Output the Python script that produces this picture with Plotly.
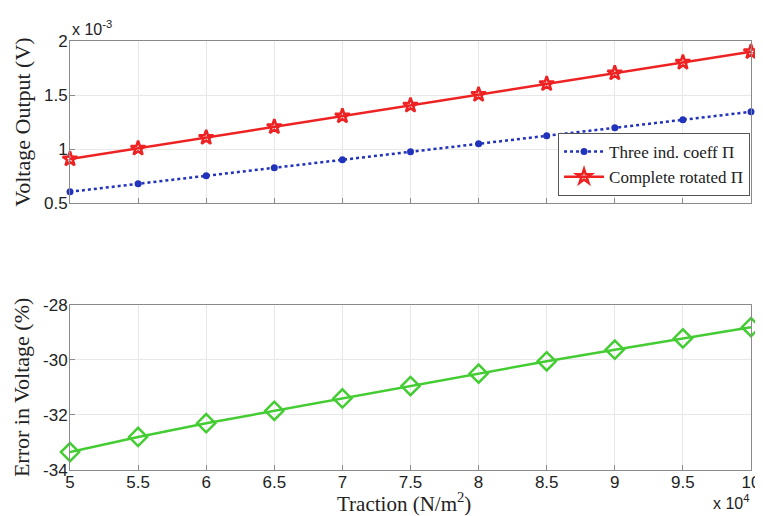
import plotly.graph_objects as go
from plotly.subplots import make_subplots

traction_x1e4 = [5, 5.5, 6, 6.5, 7, 7.5, 8, 8.5, 9, 9.5, 10]
three_ind_mV = [0.605, 0.679, 0.753, 0.827, 0.901, 0.975, 1.049, 1.123, 1.197, 1.271, 1.345]
complete_rot_mV = [0.908, 1.007, 1.107, 1.206, 1.306, 1.405, 1.504, 1.604, 1.703, 1.802, 1.900]
error_pct = [-33.35, -32.8, -32.3, -31.85, -31.4, -30.95, -30.5, -30.05, -29.63, -29.22, -28.81]

x_ticks = [5, 5.5, 6, 6.5, 7, 7.5, 8, 8.5, 9, 9.5, 10]
x_ticklabels = ["5", "5.5", "6", "6.5", "7", "7.5", "8", "8.5", "9", "9.5", "10"]
y1_ticks = [0.5, 1, 1.5, 2]
y1_ticklabels = ["0.5", "1", "1.5", "2"]
y2_ticks = [-34, -32, -30, -28]
y2_ticklabels = ["-34", "-32", "-30", "-28"]

SERIF = "Liberation Serif, Times New Roman, serif"
SANS = "Liberation Sans, Arial, sans-serif"

fig = make_subplots(rows=2, cols=1, shared_xaxes=False, vertical_spacing=0.0)

fig.add_trace(go.Scatter(
    x=traction_x1e4, y=three_ind_mV, name="Three ind. coeff \u03a0",
    mode="lines+markers", cliponaxis=False,
    line=dict(color="#2233bb", width=2.5, dash="dot"),
    marker=dict(symbol="circle", size=7, color="#2233bb"),
), row=1, col=1)
fig.add_trace(go.Scatter(
    x=traction_x1e4, y=complete_rot_mV, name="Complete rotated \u03a0",
    mode="lines+markers", cliponaxis=False,
    line=dict(color="#ee2222", width=2.5),
    marker=dict(symbol="star", size=11, color="rgba(255,255,255,0)",
                line=dict(color="#ee2222", width=2.5)),
), row=1, col=1)
fig.add_trace(go.Scatter(
    x=traction_x1e4, y=error_pct, name="Error",
    mode="lines+markers", showlegend=False, cliponaxis=False,
    line=dict(color="#44cc33", width=2.5),
    marker=dict(symbol="diamond-open", size=14, color="#44cc33",
                line=dict(color="#44cc33", width=2.5)),
), row=2, col=1)

axis_common = dict(
    showline=True, linecolor="#8a8a8a", linewidth=1, mirror=True,
    ticks="inside", ticklen=5, tickcolor="#8a8a8a",
    showgrid=True, gridcolor="#e8e8e8", gridwidth=1, zeroline=False,
    tickfont=dict(family=SANS, size=17, color="#222"),
)

fig.update_xaxes(axis_common, range=[5, 10], tickvals=x_ticks)
fig.update_xaxes(showticklabels=False, row=1, col=1)
fig.update_xaxes(ticktext=x_ticklabels, row=2, col=1, ticklabelstandoff=-3)
fig.update_yaxes(axis_common)
fig.update_yaxes(range=[0.5, 2], tickvals=y1_ticks, ticktext=y1_ticklabels, row=1, col=1,
                 ticklabelstandoff=-2,
                 title=dict(text="Voltage Output (V)",
                            font=dict(family=SERIF, size=22, color="#222"),
                            standoff=7))
fig.update_yaxes(range=[-34, -28], tickvals=y2_ticks, ticktext=y2_ticklabels, row=2, col=1,
                 ticklabelstandoff=-2,
                 title=dict(text="Error in Voltage (%)",
                            font=dict(family=SERIF, size=22, color="#222"),
                            standoff=7))

fig.update_layout(
    width=763, height=516,
    margin=dict(l=62, r=11, t=33, b=54),
    paper_bgcolor="white", plot_bgcolor="white",
    xaxis=dict(domain=[0, 1]), xaxis2=dict(domain=[0, 1]),
    yaxis=dict(domain=[0.622, 1.0]), yaxis2=dict(domain=[0.0, 0.385]),
    legend=dict(
        x=0.9986, y=0.6387, xanchor="right", yanchor="bottom",
        bgcolor="white", bordercolor="#555", borderwidth=1,
        font=dict(family=SERIF, size=17, color="#222"),
        tracegroupgap=0, itemwidth=40,
    ),
    showlegend=True,
    annotations=[
        dict(text="x 10<sup>-3</sup>", xref="paper", yref="paper", x=0, y=1.0,
             xanchor="left", yanchor="bottom", showarrow=False, yshift=1,
             font=dict(family=SANS, size=16, color="#222")),
        dict(text="x 10<sup>4</sup>", xref="paper", yref="paper", x=1.0, y=0,
             xanchor="right", yanchor="top", showarrow=False, yshift=-20,
             font=dict(family=SANS, size=16, color="#222")),
        dict(text="Traction (N/m<sup>2</sup>)", xref="paper", yref="paper", x=0.49, y=0,
             xanchor="center", yanchor="top", showarrow=False, yshift=-17,
             font=dict(family=SERIF, size=21, color="#222")),
    ],
)

fig.write_html("out.html")
